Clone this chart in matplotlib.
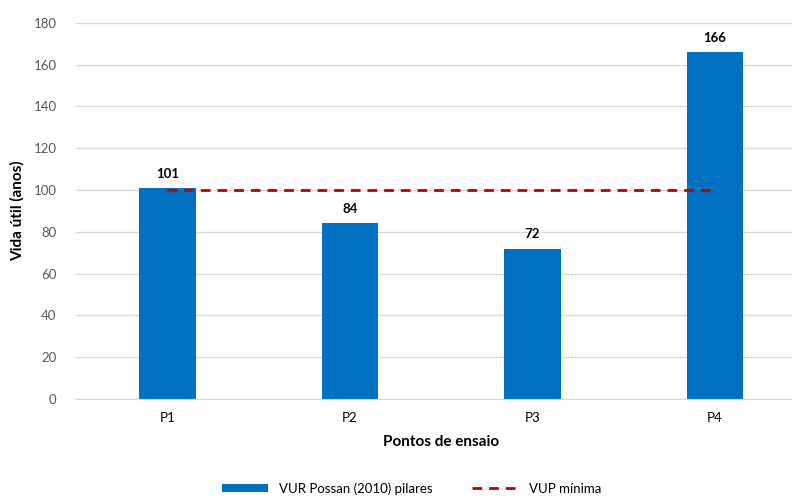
import matplotlib.pyplot as plt
import numpy as np

plt.rcParams['font.family'] = ['Lato', 'DejaVu Sans']

pontos = ['P1', 'P2', 'P3', 'P4']
vur = [101, 84, 72, 166]
vup_min = [100, 100, 100, 100]

fig = plt.figure(figsize=(7.92, 4.99), dpi=100)
ax = fig.add_axes([0.096, 0.2004, 0.922, 0.754])

x = np.arange(len(pontos))
bars = ax.bar(x, vur, width=0.31, color='#0070C0', label='VUR Possan (2010) pilares', zorder=2)
line, = ax.plot(x, vup_min, '--', color='#C00000', lw=2, dashes=(3.5, 2.5), label='VUP mínima', zorder=3)

for xi, v in zip(x, vur):
    ax.text(xi, v + 4, str(v), ha='center', va='bottom', fontsize=9.5,
            fontweight='bold', color='#000000')

ax.set_xlim(-0.5, 3.5)
ax.set_ylim(0, 180)
ax.set_yticks(np.arange(0, 181, 20))
ax.set_xticks(x)
ax.set_xticklabels(pontos)
ax.yaxis.grid(True, color='#D9D9D9', lw=1, zorder=0)
ax.set_axisbelow(True)
for s in ['top', 'right', 'left']:
    ax.spines[s].set_visible(False)
ax.spines['bottom'].set_color('#D9D9D9')
ax.tick_params(axis='both', length=0, labelsize=9.5, colors='#595959')
ax.tick_params(axis='x', pad=9, colors='#000000')
ax.tick_params(axis='y', pad=14)

ax.set_ylabel('Vida útil (anos)', fontsize=11, fontweight='bold', color='#000000', labelpad=6)
ax.set_xlabel('Pontos de ensaio', fontsize=11, fontweight='bold', color='#000000', labelpad=8)

fig.legend(handles=[bars, line], loc='lower center', bbox_to_anchor=(0.52, -0.015), ncol=2,
           frameon=False, fontsize=9.5, handlelength=3.5, handleheight=0.6, columnspacing=3.0)

fig.savefig('out.png', dpi=100)
